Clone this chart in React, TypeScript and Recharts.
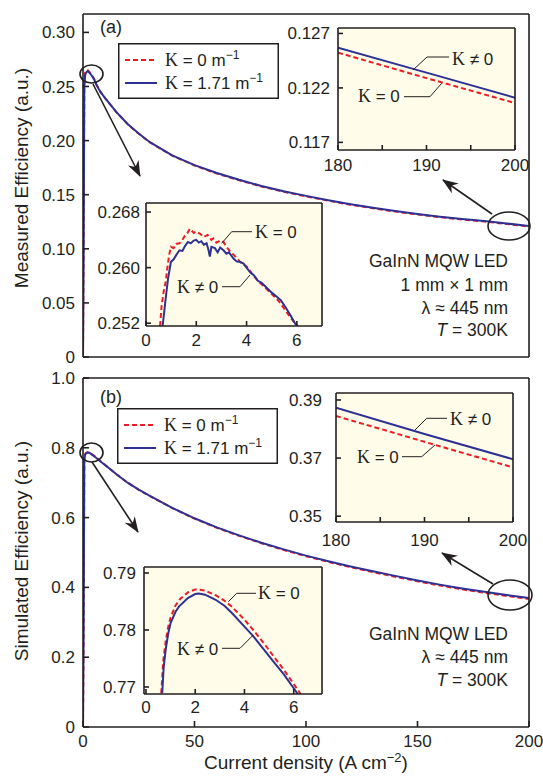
import React from "react";
import { LineChart, Line, XAxis, YAxis, CartesianGrid, Legend } from "recharts";

const INK = "#231f20";
const RED = "#ed1c24";
const BLUE = "#2e3192";
const CREAM = "#fffdea";
const SANS = '"Liberation Sans", Arial, sans-serif';
const SERIF = '"Liberation Serif", "Times New Roman", serif';

// (a) measured efficiency vs current density
const jMainA = [0, 0.3, 0.6, 0.8, 1, 1.3, 1.8, 2.2, 2.8, 3.5, 4.3, 5, 6, 7, 8, 10, 12, 15, 20, 25, 30, 40, 50, 60, 70, 80, 90, 100, 110, 120, 130, 140, 150, 160, 170, 180, 190, 200];
const measK0 = [0, 0.12, 0.2516, 0.2581, 0.263, 0.2635, 0.2654, 0.2649, 0.2638, 0.2618, 0.2593, 0.257, 0.2518, 0.248, 0.2445, 0.239, 0.234, 0.2262, 0.2152, 0.2063, 0.1983, 0.1861, 0.177, 0.1696, 0.1634, 0.1576, 0.1527, 0.1484, 0.1444, 0.1407, 0.1374, 0.1344, 0.1317, 0.1292, 0.1271, 0.12524, 0.1229, 0.12061];
const measK171 = [0, 0.1, 0.2516, 0.2558, 0.2608, 0.2625, 0.2637, 0.264, 0.2628, 0.2613, 0.2589, 0.2565, 0.2517, 0.248, 0.2445, 0.239, 0.234, 0.2263, 0.2154, 0.2065, 0.1985, 0.1864, 0.1773, 0.17, 0.1638, 0.1581, 0.1532, 0.1489, 0.1449, 0.1412, 0.1379, 0.1349, 0.1322, 0.1297, 0.1276, 0.1257, 0.1234, 0.1211];

// (a) low-current detail
const jLowA_K0 = [0.56, 0.62, 0.7, 0.79, 0.85, 0.92, 0.99, 1.1, 1.2, 1.33, 1.45, 1.55, 1.65, 1.75, 1.8, 1.9, 2.0, 2.14, 2.3, 2.45, 2.6, 2.68, 2.8, 2.95, 3.08, 3.2, 3.35, 3.5, 3.65, 3.75, 3.9, 4.02, 4.2, 4.43, 4.6, 4.83, 5.0, 5.2, 5.36, 5.55, 5.75, 5.9, 6.04];
const lowA_K0 = [0.2516, 0.2545, 0.2565, 0.2581, 0.26, 0.2618, 0.263, 0.2628, 0.2634, 0.2635, 0.264, 0.2646, 0.265, 0.2656, 0.2654, 0.265, 0.2652, 0.2649, 0.2644, 0.2647, 0.264, 0.2642, 0.2636, 0.2639, 0.2637, 0.263, 0.2623, 0.2618, 0.2612, 0.2608, 0.2604, 0.2601, 0.2592, 0.2582, 0.2576, 0.2568, 0.2562, 0.2555, 0.2548, 0.2538, 0.2528, 0.2521, 0.2516];
const jLowA_K171 = [0.66, 0.72, 0.79, 0.88, 0.99, 1.1, 1.2, 1.33, 1.45, 1.55, 1.67, 1.78, 1.9, 2.0, 2.1, 2.2, 2.3, 2.41, 2.48, 2.54, 2.6, 2.74, 2.85, 2.95, 3.08, 3.2, 3.3, 3.48, 3.6, 3.75, 3.88, 4.0, 4.15, 4.29, 4.45, 4.6, 4.83, 5.0, 5.2, 5.36, 5.55, 5.75, 5.97];
const lowA_K171 = [0.2516, 0.2535, 0.2558, 0.2585, 0.2608, 0.2612, 0.2618, 0.2625, 0.2624, 0.2631, 0.2637, 0.2635, 0.2639, 0.264, 0.2636, 0.2638, 0.2633, 0.2635, 0.2626, 0.2616, 0.263, 0.2628, 0.2622, 0.2629, 0.2625, 0.262, 0.2622, 0.2613, 0.2609, 0.2608, 0.2606, 0.26, 0.2593, 0.2589, 0.2581, 0.2578, 0.257, 0.2564, 0.2558, 0.2553, 0.2543, 0.2531, 0.2517];

// (b) simulated efficiency vs current density
const jMainB = [0, 0.3, 0.6, 1, 1.5, 2.2, 3, 4, 5, 6, 8, 10, 12, 15, 20, 25, 30, 40, 50, 60, 70, 80, 90, 100, 110, 120, 130, 140, 150, 160, 170, 180, 190, 200];
const simK0 = [0, 0.31, 0.768, 0.7822, 0.786, 0.7871, 0.786, 0.7816, 0.777, 0.772, 0.7605, 0.7503, 0.74, 0.724, 0.7, 0.6797, 0.6615, 0.6273, 0.597, 0.5709, 0.5478, 0.5266, 0.5073, 0.4892, 0.4731, 0.4579, 0.4438, 0.4307, 0.4177, 0.4055, 0.3943, 0.3845, 0.3756, 0.3668];
const simK171 = [0, 0.3, 0.765, 0.7812, 0.785, 0.7864, 0.785, 0.7806, 0.776, 0.771, 0.76, 0.75, 0.74, 0.724, 0.7, 0.68, 0.662, 0.628, 0.598, 0.572, 0.549, 0.528, 0.509, 0.491, 0.475, 0.46, 0.446, 0.433, 0.42, 0.408, 0.397, 0.3873, 0.3783, 0.3696];

// (b) low-current detail
const jLowB_K0 = [0.62, 0.7, 0.8, 0.9, 1.0, 1.2, 1.4, 1.7, 2.0, 2.15, 2.4, 2.83, 3.2, 3.51, 4.0, 4.32, 4.8, 5.13, 5.6, 6.2, 6.3];
const lowB_K0 = [0.7689, 0.7745, 0.778, 0.7805, 0.7822, 0.7843, 0.7855, 0.7866, 0.7871, 0.7871, 0.7869, 0.7861, 0.7851, 0.784, 0.7818, 0.7802, 0.7776, 0.7757, 0.773, 0.7693, 0.7686];
const jLowB_K171 = [0.66, 0.72, 0.8, 0.9, 1.0, 1.2, 1.34, 1.7, 2.0, 2.15, 2.4, 2.83, 3.2, 3.51, 4.0, 4.32, 4.8, 5.13, 5.6, 6.08, 6.2];
const lowB_K171 = [0.7689, 0.7735, 0.7765, 0.7793, 0.7812, 0.7832, 0.7841, 0.7856, 0.7863, 0.7864, 0.7862, 0.7853, 0.7842, 0.7829, 0.7806, 0.7791, 0.7765, 0.7747, 0.7722, 0.7693, 0.7685];

const xTicksMain = [0, 50, 100, 150, 200];
const yTicksA = [0, 0.05, 0.1, 0.15, 0.2, 0.25, 0.3];
const yTicksB = [0, 0.2, 0.4, 0.6, 0.8, 1.0];
const xTicksHi = [180, 185, 190, 195, 200];
const xTicksLo = [0, 2, 4, 6];

const pts = (xs: number[], ys: number[]) => xs.map((x, i) => ({ x, y: ys[i] }));
const hi = (xs: number[], ys: number[]) => pts(xs, ys).filter((p) => p.x >= 180);

type Series = { name: string; data: { x: number; y: number }[]; color: string; dashed?: boolean };

const seriesMainA: Series[] = [
  { name: "K0", data: pts(jMainA, measK0), color: RED, dashed: true },
  { name: "K171", data: pts(jMainA, measK171), color: BLUE },
];
const seriesMainB: Series[] = [
  { name: "K0", data: pts(jMainB, simK0), color: RED, dashed: true },
  { name: "K171", data: pts(jMainB, simK171), color: BLUE },
];

function LegendBox() {
  return (
    <svg width={161} height={56} style={{ display: "block" }}>
      <rect x={0.75} y={0.75} width={159.5} height={54.5} fill="#fff" stroke={INK} strokeWidth={1.5} />
      <line x1={7} x2={39} y1={17} y2={17} stroke={RED} strokeWidth={2} strokeDasharray="5 3" />
      <line x1={7} x2={39} y1={40} y2={40} stroke={BLUE} strokeWidth={2} />
      {[
        { y: 23, v: "0" },
        { y: 46, v: "1.71" },
      ].map((r) => (
        <text key={r.v} x={47} y={r.y} fill={INK} fontSize={17} fontFamily={SANS}>
          <tspan fontFamily={SERIF} fontSize={18}>K</tspan>
          <tspan>{` = ${r.v} m`}</tspan>
          <tspan fontSize={12} dy={-7}>−1</tspan>
        </text>
      ))}
    </svg>
  );
}

type FramedProps = {
  pos: [number, number, number, number];
  box: [number, number, number, number];
  xDomain: [number, number];
  yDomain: [number, number];
  xTicks: number[];
  yTicks: number[];
  xFmt?: (v: number) => string;
  yFmt: (v: number) => string;
  xGap: number;
  yGap: number;
  series: Series[];
  bg?: string;
  tickLen?: number;
  legendAt?: [number, number];
};

function Framed({ pos, box, xDomain, yDomain, xTicks, yTicks, xFmt, yFmt, xGap, yGap, series, bg, tickLen = 6, legendAt }: FramedProps) {
  const [cx, cy, cw, ch] = pos;
  const [L, T, R, B] = box;
  const tickStyle = { fill: INK, fontSize: 17, fontFamily: SANS };
  const axisLine = { stroke: INK, strokeWidth: 1.6 };
  const tickLine = { stroke: INK, strokeWidth: 1.6 };
  return (
    <div style={{ position: "absolute", left: cx, top: cy, width: cw, height: ch }}>
      <LineChart width={cw} height={ch} margin={{ top: 0, right: 0, bottom: 0, left: 0 }}>
        {bg && <CartesianGrid xAxisId="b" yAxisId="l" horizontal={false} vertical={false} fill={bg} fillOpacity={1} />}
        <XAxis xAxisId="b" type="number" dataKey="x" domain={xDomain} ticks={xTicks} allowDataOverflow height={cy + ch - B}
          tick={xFmt ? tickStyle : false} tickFormatter={xFmt} tickSize={-tickLen} tickMargin={tickLen + xGap} axisLine={axisLine} tickLine={tickLine} interval={0} />
        <XAxis xAxisId="t" orientation="top" type="number" dataKey="x" domain={xDomain} ticks={xTicks} allowDataOverflow height={T - cy}
          tick={false} tickSize={-tickLen} axisLine={axisLine} tickLine={tickLine} interval={0} />
        <YAxis yAxisId="l" type="number" domain={yDomain} ticks={yTicks} allowDataOverflow width={L - cx}
          tick={tickStyle} tickFormatter={yFmt} tickSize={-tickLen} tickMargin={tickLen + yGap} axisLine={axisLine} tickLine={tickLine} interval={0} />
        <YAxis yAxisId="r" orientation="right" type="number" domain={yDomain} ticks={yTicks} allowDataOverflow width={cx + cw - R}
          tick={false} tickSize={-tickLen} axisLine={axisLine} tickLine={tickLine} interval={0} />
        {series.map((s) => (
          <Line key={s.name} xAxisId="b" yAxisId="l" data={s.data} dataKey="y" name={s.name} type="linear" dot={false}
            stroke={s.color} strokeWidth={2} strokeDasharray={s.dashed ? "5 3" : undefined} isAnimationActive={false} />
        ))}
        {legendAt && (
          <Legend layout="vertical" align="center" verticalAlign="middle"
            wrapperStyle={{ left: legendAt[0] - cx, top: legendAt[1] - cy, width: 161, height: 56 }}
            content={() => <LegendBox />} />
        )}
      </LineChart>
    </div>
  );
}

const f0 = (d: number) => (v: number) => (v === 0 ? "0" : v.toFixed(d));
const fx = (v: number) => String(v);
const fx10 = (v: number) => (v % 10 === 0 ? String(v) : "");

function Leader({ p, tx, ty, neq }: { p: number[]; tx: number; ty: number; neq?: boolean }) {
  const d = `M${p[0]},${p[1]} L${p[2]},${p[3]} L${p[4]},${p[5]}`;
  return (
    <g>
      <path d={d} fill="none" stroke={INK} strokeWidth={1} />
      <text x={tx} y={ty} fill={INK} fontSize={17} fontFamily={SANS}>
        <tspan fontFamily={SERIF} fontSize={18}>K</tspan>
        <tspan>{neq ? " ≠ 0" : " = 0"}</tspan>
      </text>
    </g>
  );
}

function Overlay() {
  const t = { fill: INK, fontFamily: SANS, fontSize: 17.5 };
  return (
    <svg width={543} height={776} style={{ position: "absolute", left: 0, top: 0, pointerEvents: "none" }}>
      <defs>
        <marker id="ah" viewBox="0 0 16 12" refX={15} refY={6} markerWidth={16} markerHeight={12} markerUnits="userSpaceOnUse" orient="auto">
          <path d="M0,0 L16,6 L0,12 L5,6 z" fill={INK} />
        </marker>
      </defs>
      {/* axis titles */}
      <text transform="translate(28,178) rotate(-90)" textAnchor="middle" {...t} fontSize={19}>Measured Efficiency (a.u.)</text>
      <text transform="translate(28,551) rotate(-90)" textAnchor="middle" {...t} fontSize={19}>Simulated Efficiency (a.u.)</text>
      <text x={306} y={769} textAnchor="middle" {...t} fontSize={19}>
        Current density (A cm<tspan fontSize={13} dy={-7}>−2</tspan><tspan dy={7}>)</tspan>
      </text>
      {/* panel labels */}
      <text x={100} y={33} {...t} fontSize={18}>(a)</text>
      <text x={100} y={403} {...t} fontSize={18}>(b)</text>
      {/* device notes */}
      <g textAnchor="end">
        <text x={508} y={267} {...t}>GaInN MQW LED</text>
        <text x={508} y={291} {...t}>1 mm × 1 mm</text>
        <text x={508} y={314} {...t}>λ ≈ 445 nm</text>
        <text x={508} y={336} {...t}><tspan fontStyle="italic">T</tspan> = 300K</text>
        <text x={508} y={640} {...t}>GaInN MQW LED</text>
        <text x={508} y={663} {...t}>λ ≈ 445 nm</text>
        <text x={508} y={686} {...t}><tspan fontStyle="italic">T</tspan> = 300K</text>
      </g>
      {/* zoom markers */}
      <g fill="none" stroke={INK} strokeWidth={1.6}>
        <ellipse cx={91.5} cy={74} rx={11.5} ry={9} />
        <ellipse cx={509} cy={226} rx={21} ry={14} />
        <ellipse cx={91.5} cy={452.5} rx={11.5} ry={9.5} />
        <ellipse cx={510} cy={595} rx={22} ry={15} />
        <line x1={93} y1={84} x2={140} y2={176} markerEnd="url(#ah)" />
        <line x1={492} y1={214} x2={443} y2={180} markerEnd="url(#ah)" />
        <line x1={92} y1={462} x2={138} y2={532} markerEnd="url(#ah)" />
        <line x1={493} y1={584} x2={442} y2={553} markerEnd="url(#ah)" />
      </g>
      {/* inset labels */}
      <Leader p={[413, 70, 427, 57, 449, 57]} tx={452} ty={65} neq />
      <Leader p={[441.7, 83.3, 430, 96.7, 404, 96.7]} tx={358} ty={102} />
      <Leader p={[221.7, 243.3, 231.7, 231.7, 252, 231.7]} tx={255} ty={238} />
      <Leader p={[250, 275, 240, 286.7, 222, 286.7]} tx={177} ty={293} neq />
      <Leader p={[415, 430, 426.7, 418.3, 447, 418.3]} tx={450} ty={425} neq />
      <Leader p={[435, 445, 421.7, 456.7, 402, 456.7]} tx={357} ty={463} />
      <Leader p={[228.3, 601.7, 236.7, 593.3, 256, 593.3]} tx={258} ty={599} />
      <Leader p={[253.3, 635, 240, 648.3, 222, 648.3]} tx={177} ty={655} neq />
    </svg>
  );
}

export default function App() {
  return (
    <div style={{ position: "absolute", left: 0, top: 0, width: 543, height: 776, background: "#fff" }}>
      <Framed pos={[0, 0, 543, 370]} box={[83, 14, 529, 357]} xDomain={[0, 200]} yDomain={[0, 0.317]}
        xTicks={xTicksMain} yTicks={yTicksA} yFmt={f0(2)} xGap={4} yGap={8} series={seriesMainA} legendAt={[118, 43]} />
      <Framed pos={[0, 370, 543, 406]} box={[83, 378, 529, 727]} xDomain={[0, 200]} yDomain={[0, 1.0]}
        xTicks={xTicksMain} yTicks={yTicksB} xFmt={fx} yFmt={f0(1)} xGap={8} yGap={8} series={seriesMainB} legendAt={[117, 408]} />

      <Framed pos={[280, 18, 250, 170]} box={[338, 28, 515, 150]} xDomain={[180, 200]} yDomain={[0.1163, 0.1275]}
        xTicks={xTicksHi} yTicks={[0.117, 0.122, 0.127]} xFmt={fx10} yFmt={f0(3)} xGap={9} yGap={8} tickLen={5} bg={CREAM}
        series={[
          { name: "K0", data: hi(jMainA, measK0), color: RED, dashed: true },
          { name: "K171", data: hi(jMainA, measK171), color: BLUE },
        ]} />
      <Framed pos={[90, 195, 245, 160]} box={[146, 203, 322, 326]} xDomain={[0, 7]} yDomain={[0.2516, 0.2693]}
        xTicks={xTicksLo} yTicks={[0.252, 0.26, 0.268]} xFmt={fx} yFmt={f0(3)} xGap={8} yGap={6} tickLen={5} bg={CREAM}
        series={[
          { name: "K0", data: pts(jLowA_K0, lowA_K0), color: RED, dashed: true },
          { name: "K171", data: pts(jLowA_K171, lowA_K171), color: BLUE },
        ]} />
      <Framed pos={[280, 385, 250, 170]} box={[336, 393, 513, 522]} xDomain={[180, 200]} yDomain={[0.348, 0.3924]}
        xTicks={xTicksHi} yTicks={[0.35, 0.37, 0.39]} xFmt={fx10} yFmt={f0(2)} xGap={12} yGap={14} tickLen={5} bg={CREAM}
        series={[
          { name: "K0", data: hi(jMainB, simK0), color: RED, dashed: true },
          { name: "K171", data: hi(jMainB, simK171), color: BLUE },
        ]} />
      <Framed pos={[90, 560, 245, 160]} box={[144, 567, 322, 694]} xDomain={[-0.08, 7.15]} yDomain={[0.76877, 0.79105]}
        xTicks={xTicksLo} yTicks={[0.77, 0.78, 0.79]} xFmt={fx} yFmt={f0(2)} xGap={7} yGap={8} tickLen={5} bg={CREAM}
        series={[
          { name: "K0", data: pts(jLowB_K0, lowB_K0), color: RED, dashed: true },
          { name: "K171", data: pts(jLowB_K171, lowB_K171), color: BLUE },
        ]} />

      <Overlay />
    </div>
  );
}
